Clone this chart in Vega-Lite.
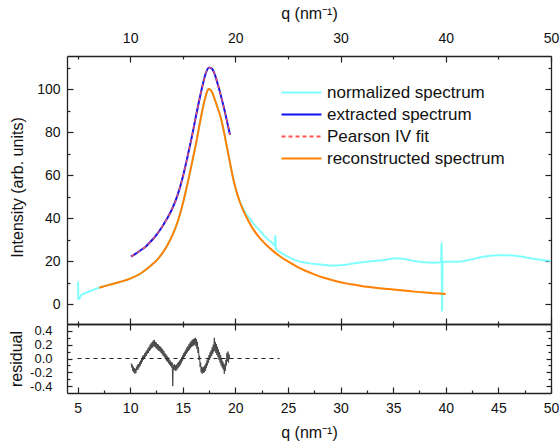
{
  "$schema": "https://vega.github.io/schema/vega-lite/v6.json",
  "width": 484,
  "height": 337,
  "autosize": {"type": "none"},
  "padding": {"left": 67, "top": 56, "right": 9, "bottom": 54},
  "config": {
    "view": {"stroke": null},
    "font": "Liberation Sans",
    "axis": {
      "grid": false,
      "domainColor": "#222222",
      "domainWidth": 1.3,
      "tickColor": "#222222",
      "tickWidth": 1.2,
      "labelFont": "Liberation Sans",
      "labelFontSize": 14,
      "labelColor": "#111111",
      "titleFont": "Liberation Sans",
      "titleFontSize": 16,
      "titleFontWeight": "normal",
      "titleColor": "#111111",
      "labelFlush": false,
      "labelOverlap": false,
      "labelBound": false
    }
  },
  "datasets": {
    "spectra": [
      {"s": "normalized spectrum", "q": 5.05, "I": 10.3},
      {"s": "normalized spectrum", "q": 5.08, "I": 2.3},
      {"s": "normalized spectrum", "q": 5.4, "I": 4.3},
      {"s": "normalized spectrum", "q": 5.7, "I": 5.0},
      {"s": "normalized spectrum", "q": 6.3, "I": 6.2},
      {"s": "normalized spectrum", "q": 7.07, "I": 7.6},
      {"s": "normalized spectrum", "q": 8, "I": 8.9},
      {"s": "normalized spectrum", "q": 9, "I": 10.2},
      {"s": "normalized spectrum", "q": 10, "I": 11.8},
      {"s": "normalized spectrum", "q": 11, "I": 14.2},
      {"s": "normalized spectrum", "q": 12, "I": 18.0},
      {"s": "normalized spectrum", "q": 12.5, "I": 20.2},
      {"s": "normalized spectrum", "q": 13, "I": 23.2},
      {"s": "normalized spectrum", "q": 13.5, "I": 27.0},
      {"s": "normalized spectrum", "q": 14, "I": 31.8},
      {"s": "normalized spectrum", "q": 14.5, "I": 38.0},
      {"s": "normalized spectrum", "q": 15, "I": 46.5},
      {"s": "normalized spectrum", "q": 15.5, "I": 57.0},
      {"s": "normalized spectrum", "q": 16, "I": 68.5},
      {"s": "normalized spectrum", "q": 16.3, "I": 75.5},
      {"s": "normalized spectrum", "q": 16.6, "I": 83.5},
      {"s": "normalized spectrum", "q": 16.9, "I": 91.0},
      {"s": "normalized spectrum", "q": 17.2, "I": 97.0},
      {"s": "normalized spectrum", "q": 17.45, "I": 100.0},
      {"s": "normalized spectrum", "q": 17.7, "I": 99.2},
      {"s": "normalized spectrum", "q": 18.0, "I": 95.8},
      {"s": "normalized spectrum", "q": 18.3, "I": 91.5},
      {"s": "normalized spectrum", "q": 18.6, "I": 87.0},
      {"s": "normalized spectrum", "q": 18.9, "I": 80.5},
      {"s": "normalized spectrum", "q": 19.18, "I": 73.5},
      {"s": "normalized spectrum", "q": 19.5, "I": 65.5},
      {"s": "normalized spectrum", "q": 19.81, "I": 58.0},
      {"s": "normalized spectrum", "q": 20.1, "I": 52.5},
      {"s": "normalized spectrum", "q": 20.4, "I": 48.2},
      {"s": "normalized spectrum", "q": 20.76, "I": 44.3},
      {"s": "normalized spectrum", "q": 21.1, "I": 41.5},
      {"s": "normalized spectrum", "q": 21.4, "I": 39.5},
      {"s": "normalized spectrum", "q": 21.8, "I": 37.0},
      {"s": "normalized spectrum", "q": 22.35, "I": 34.0},
      {"s": "normalized spectrum", "q": 23.0, "I": 30.5},
      {"s": "normalized spectrum", "q": 23.6, "I": 28.0},
      {"s": "normalized spectrum", "q": 23.75, "I": 27.3},
      {"s": "normalized spectrum", "q": 23.8, "I": 31.6},
      {"s": "normalized spectrum", "q": 23.85, "I": 25.8},
      {"s": "normalized spectrum", "q": 24.3, "I": 24.0},
      {"s": "normalized spectrum", "q": 25.0, "I": 22.0},
      {"s": "normalized spectrum", "q": 25.5, "I": 20.8},
      {"s": "normalized spectrum", "q": 26.1, "I": 19.8},
      {"s": "normalized spectrum", "q": 27.1, "I": 18.9},
      {"s": "normalized spectrum", "q": 28.2, "I": 18.3},
      {"s": "normalized spectrum", "q": 29.3, "I": 17.9},
      {"s": "normalized spectrum", "q": 30.5, "I": 18.3},
      {"s": "normalized spectrum", "q": 31.5, "I": 19.1},
      {"s": "normalized spectrum", "q": 32.8, "I": 19.8},
      {"s": "normalized spectrum", "q": 34.0, "I": 20.4},
      {"s": "normalized spectrum", "q": 35.2, "I": 21.2},
      {"s": "normalized spectrum", "q": 36.0, "I": 21.0},
      {"s": "normalized spectrum", "q": 37.0, "I": 20.0},
      {"s": "normalized spectrum", "q": 38.0, "I": 19.4},
      {"s": "normalized spectrum", "q": 39.0, "I": 19.2},
      {"s": "normalized spectrum", "q": 39.55, "I": 19.5},
      {"s": "normalized spectrum", "q": 39.6, "I": 28.2},
      {"s": "normalized spectrum", "q": 39.65, "I": -3.1},
      {"s": "normalized spectrum", "q": 39.7, "I": 19.6},
      {"s": "normalized spectrum", "q": 40.5, "I": 19.6},
      {"s": "normalized spectrum", "q": 41.4, "I": 19.8},
      {"s": "normalized spectrum", "q": 42.3, "I": 20.6},
      {"s": "normalized spectrum", "q": 43.3, "I": 21.7},
      {"s": "normalized spectrum", "q": 44.2, "I": 22.4},
      {"s": "normalized spectrum", "q": 45.2, "I": 22.7},
      {"s": "normalized spectrum", "q": 46.2, "I": 22.6},
      {"s": "normalized spectrum", "q": 47.1, "I": 22.1},
      {"s": "normalized spectrum", "q": 48.0, "I": 21.3},
      {"s": "normalized spectrum", "q": 49.0, "I": 20.6},
      {"s": "normalized spectrum", "q": 50.0, "I": 20.0},

      {"s": "reconstructed spectrum", "q": 7.07, "I": 7.6},
      {"s": "reconstructed spectrum", "q": 8, "I": 8.9},
      {"s": "reconstructed spectrum", "q": 9, "I": 10.2},
      {"s": "reconstructed spectrum", "q": 10, "I": 11.8},
      {"s": "reconstructed spectrum", "q": 11, "I": 14.2},
      {"s": "reconstructed spectrum", "q": 12, "I": 18.0},
      {"s": "reconstructed spectrum", "q": 12.5, "I": 20.2},
      {"s": "reconstructed spectrum", "q": 13, "I": 23.2},
      {"s": "reconstructed spectrum", "q": 13.5, "I": 27.0},
      {"s": "reconstructed spectrum", "q": 14, "I": 31.8},
      {"s": "reconstructed spectrum", "q": 14.5, "I": 38.0},
      {"s": "reconstructed spectrum", "q": 15, "I": 46.5},
      {"s": "reconstructed spectrum", "q": 15.5, "I": 57.0},
      {"s": "reconstructed spectrum", "q": 16, "I": 68.5},
      {"s": "reconstructed spectrum", "q": 16.3, "I": 75.5},
      {"s": "reconstructed spectrum", "q": 16.6, "I": 83.5},
      {"s": "reconstructed spectrum", "q": 16.9, "I": 91.0},
      {"s": "reconstructed spectrum", "q": 17.2, "I": 97.0},
      {"s": "reconstructed spectrum", "q": 17.45, "I": 100.0},
      {"s": "reconstructed spectrum", "q": 17.7, "I": 99.2},
      {"s": "reconstructed spectrum", "q": 18.0, "I": 95.8},
      {"s": "reconstructed spectrum", "q": 18.3, "I": 91.5},
      {"s": "reconstructed spectrum", "q": 18.6, "I": 87.0},
      {"s": "reconstructed spectrum", "q": 18.9, "I": 80.5},
      {"s": "reconstructed spectrum", "q": 19.18, "I": 73.5},
      {"s": "reconstructed spectrum", "q": 19.5, "I": 65.5},
      {"s": "reconstructed spectrum", "q": 19.81, "I": 58.0},
      {"s": "reconstructed spectrum", "q": 20.1, "I": 52.5},
      {"s": "reconstructed spectrum", "q": 20.4, "I": 47.8},
      {"s": "reconstructed spectrum", "q": 20.76, "I": 43.4},
      {"s": "reconstructed spectrum", "q": 21.1, "I": 40.0},
      {"s": "reconstructed spectrum", "q": 21.4, "I": 37.2},
      {"s": "reconstructed spectrum", "q": 21.8, "I": 34.0},
      {"s": "reconstructed spectrum", "q": 22.35, "I": 30.5},
      {"s": "reconstructed spectrum", "q": 23.0, "I": 27.2},
      {"s": "reconstructed spectrum", "q": 23.6, "I": 24.6},
      {"s": "reconstructed spectrum", "q": 24.3, "I": 22.0},
      {"s": "reconstructed spectrum", "q": 25.0, "I": 19.8},
      {"s": "reconstructed spectrum", "q": 25.8, "I": 17.5},
      {"s": "reconstructed spectrum", "q": 26.6, "I": 15.6},
      {"s": "reconstructed spectrum", "q": 27.5, "I": 13.8},
      {"s": "reconstructed spectrum", "q": 28.5, "I": 12.1},
      {"s": "reconstructed spectrum", "q": 29.5, "I": 10.7},
      {"s": "reconstructed spectrum", "q": 30.5, "I": 9.6},
      {"s": "reconstructed spectrum", "q": 31.5, "I": 8.8},
      {"s": "reconstructed spectrum", "q": 32.5, "I": 8.0},
      {"s": "reconstructed spectrum", "q": 33.5, "I": 7.4},
      {"s": "reconstructed spectrum", "q": 35.0, "I": 6.7},
      {"s": "reconstructed spectrum", "q": 36.5, "I": 6.0},
      {"s": "reconstructed spectrum", "q": 38.0, "I": 5.3},
      {"s": "reconstructed spectrum", "q": 40.0, "I": 4.6},

      {"s": "extracted spectrum", "q": 10.08, "I": 22.0},
      {"s": "extracted spectrum", "q": 10.5, "I": 23.3},
      {"s": "extracted spectrum", "q": 11.0, "I": 25.0},
      {"s": "extracted spectrum", "q": 11.5, "I": 26.8},
      {"s": "extracted spectrum", "q": 12.0, "I": 29.3},
      {"s": "extracted spectrum", "q": 12.5, "I": 32.2},
      {"s": "extracted spectrum", "q": 13.0, "I": 35.6},
      {"s": "extracted spectrum", "q": 13.5, "I": 39.6},
      {"s": "extracted spectrum", "q": 14.0, "I": 44.3},
      {"s": "extracted spectrum", "q": 14.5, "I": 50.5},
      {"s": "extracted spectrum", "q": 15.0, "I": 59.0},
      {"s": "extracted spectrum", "q": 15.5, "I": 69.5},
      {"s": "extracted spectrum", "q": 16.0, "I": 81.0},
      {"s": "extracted spectrum", "q": 16.3, "I": 88.5},
      {"s": "extracted spectrum", "q": 16.6, "I": 95.5},
      {"s": "extracted spectrum", "q": 16.9, "I": 102.0},
      {"s": "extracted spectrum", "q": 17.2, "I": 107.5},
      {"s": "extracted spectrum", "q": 17.5, "I": 110.0},
      {"s": "extracted spectrum", "q": 17.8, "I": 109.3},
      {"s": "extracted spectrum", "q": 18.1, "I": 106.0},
      {"s": "extracted spectrum", "q": 18.4, "I": 101.0},
      {"s": "extracted spectrum", "q": 18.7, "I": 95.5},
      {"s": "extracted spectrum", "q": 19.0, "I": 89.5},
      {"s": "extracted spectrum", "q": 19.25, "I": 84.0},
      {"s": "extracted spectrum", "q": 19.49, "I": 78.7},

      {"s": "Pearson IV fit", "q": 10.08, "I": 22.0},
      {"s": "Pearson IV fit", "q": 10.5, "I": 23.3},
      {"s": "Pearson IV fit", "q": 11.0, "I": 25.0},
      {"s": "Pearson IV fit", "q": 11.5, "I": 26.8},
      {"s": "Pearson IV fit", "q": 12.0, "I": 29.3},
      {"s": "Pearson IV fit", "q": 12.5, "I": 32.2},
      {"s": "Pearson IV fit", "q": 13.0, "I": 35.6},
      {"s": "Pearson IV fit", "q": 13.5, "I": 39.6},
      {"s": "Pearson IV fit", "q": 14.0, "I": 44.3},
      {"s": "Pearson IV fit", "q": 14.5, "I": 50.5},
      {"s": "Pearson IV fit", "q": 15.0, "I": 59.0},
      {"s": "Pearson IV fit", "q": 15.5, "I": 69.5},
      {"s": "Pearson IV fit", "q": 16.0, "I": 81.0},
      {"s": "Pearson IV fit", "q": 16.3, "I": 88.5},
      {"s": "Pearson IV fit", "q": 16.6, "I": 95.5},
      {"s": "Pearson IV fit", "q": 16.9, "I": 102.0},
      {"s": "Pearson IV fit", "q": 17.2, "I": 107.5},
      {"s": "Pearson IV fit", "q": 17.5, "I": 110.0},
      {"s": "Pearson IV fit", "q": 17.8, "I": 109.3},
      {"s": "Pearson IV fit", "q": 18.1, "I": 106.0},
      {"s": "Pearson IV fit", "q": 18.4, "I": 101.0},
      {"s": "Pearson IV fit", "q": 18.7, "I": 95.5},
      {"s": "Pearson IV fit", "q": 19.0, "I": 89.5},
      {"s": "Pearson IV fit", "q": 19.25, "I": 84.0},
      {"s": "Pearson IV fit", "q": 19.49, "I": 78.7}
    ],
    "residual": [
      {"q": 10.10, "r": -0.07}, {"q": 10.15, "r": -0.13}, {"q": 10.20, "r": -0.09}, {"q": 10.25, "r": -0.18},
      {"q": 10.30, "r": -0.12}, {"q": 10.35, "r": -0.20}, {"q": 10.40, "r": -0.14}, {"q": 10.45, "r": -0.22},
      {"q": 10.50, "r": -0.15}, {"q": 10.55, "r": -0.21}, {"q": 10.60, "r": -0.12}, {"q": 10.65, "r": -0.17},
      {"q": 10.70, "r": -0.09}, {"q": 10.75, "r": -0.16}, {"q": 10.80, "r": -0.08}, {"q": 10.85, "r": -0.13},
      {"q": 10.90, "r": -0.05}, {"q": 10.95, "r": -0.11}, {"q": 11.00, "r": -0.03}, {"q": 11.05, "r": -0.08},
      {"q": 11.10, "r": 0.01}, {"q": 11.15, "r": -0.05}, {"q": 11.20, "r": 0.04}, {"q": 11.25, "r": -0.02},
      {"q": 11.30, "r": 0.05}, {"q": 11.35, "r": 0.00}, {"q": 11.40, "r": 0.08}, {"q": 11.45, "r": 0.02},
      {"q": 11.50, "r": 0.10}, {"q": 11.55, "r": 0.04}, {"q": 11.60, "r": 0.12}, {"q": 11.65, "r": 0.07},
      {"q": 11.70, "r": 0.15}, {"q": 11.75, "r": 0.08}, {"q": 11.80, "r": 0.17}, {"q": 11.85, "r": 0.11},
      {"q": 11.90, "r": 0.20}, {"q": 11.95, "r": 0.13}, {"q": 12.00, "r": 0.22}, {"q": 12.05, "r": 0.15},
      {"q": 12.10, "r": 0.24}, {"q": 12.15, "r": 0.16}, {"q": 12.20, "r": 0.26}, {"q": 12.25, "r": 0.18},
      {"q": 12.30, "r": 0.27}, {"q": 12.35, "r": 0.17}, {"q": 12.40, "r": 0.24}, {"q": 12.45, "r": 0.15},
      {"q": 12.50, "r": 0.23}, {"q": 12.55, "r": 0.14}, {"q": 12.60, "r": 0.21}, {"q": 12.65, "r": 0.12},
      {"q": 12.70, "r": 0.20}, {"q": 12.75, "r": 0.11}, {"q": 12.80, "r": 0.18}, {"q": 12.85, "r": 0.10},
      {"q": 12.90, "r": 0.17}, {"q": 12.95, "r": 0.08}, {"q": 13.00, "r": 0.15}, {"q": 13.05, "r": 0.06},
      {"q": 13.10, "r": 0.13}, {"q": 13.15, "r": 0.04}, {"q": 13.20, "r": 0.11}, {"q": 13.25, "r": 0.02},
      {"q": 13.30, "r": 0.08}, {"q": 13.35, "r": -0.01}, {"q": 13.40, "r": 0.06}, {"q": 13.45, "r": -0.03},
      {"q": 13.50, "r": 0.04}, {"q": 13.55, "r": -0.05}, {"q": 13.60, "r": 0.02}, {"q": 13.65, "r": -0.07},
      {"q": 13.70, "r": -0.01}, {"q": 13.75, "r": -0.09}, {"q": 13.80, "r": -0.03}, {"q": 13.85, "r": -0.11},
      {"q": 13.90, "r": -0.05}, {"q": 13.95, "r": -0.13}, {"q": 14.00, "r": -0.06}, {"q": 14.05, "r": -0.40},
      {"q": 14.10, "r": -0.10}, {"q": 14.15, "r": -0.16}, {"q": 14.20, "r": -0.08}, {"q": 14.25, "r": -0.17},
      {"q": 14.30, "r": -0.10}, {"q": 14.35, "r": -0.18}, {"q": 14.40, "r": -0.09}, {"q": 14.45, "r": -0.16},
      {"q": 14.50, "r": -0.07}, {"q": 14.55, "r": -0.14}, {"q": 14.60, "r": -0.05}, {"q": 14.65, "r": -0.12},
      {"q": 14.70, "r": -0.03}, {"q": 14.75, "r": -0.10}, {"q": 14.80, "r": -0.01}, {"q": 14.85, "r": -0.07},
      {"q": 14.90, "r": 0.02}, {"q": 14.95, "r": -0.04}, {"q": 15.00, "r": 0.05}, {"q": 15.05, "r": -0.01},
      {"q": 15.10, "r": 0.08}, {"q": 15.15, "r": 0.02}, {"q": 15.20, "r": 0.10}, {"q": 15.25, "r": 0.04},
      {"q": 15.30, "r": 0.13}, {"q": 15.35, "r": 0.07}, {"q": 15.40, "r": 0.16}, {"q": 15.45, "r": 0.09},
      {"q": 15.50, "r": 0.18}, {"q": 15.55, "r": 0.11}, {"q": 15.60, "r": 0.21}, {"q": 15.65, "r": 0.13},
      {"q": 15.70, "r": 0.23}, {"q": 15.75, "r": 0.15}, {"q": 15.80, "r": 0.25}, {"q": 15.85, "r": 0.17},
      {"q": 15.90, "r": 0.27}, {"q": 15.95, "r": 0.18}, {"q": 16.00, "r": 0.28}, {"q": 16.05, "r": 0.19},
      {"q": 16.10, "r": 0.29}, {"q": 16.15, "r": 0.20}, {"q": 16.20, "r": 0.30}, {"q": 16.25, "r": 0.18},
      {"q": 16.30, "r": 0.28}, {"q": 16.35, "r": 0.14}, {"q": 16.40, "r": 0.24}, {"q": 16.45, "r": 0.08},
      {"q": 16.50, "r": 0.16}, {"q": 16.55, "r": -0.02}, {"q": 16.60, "r": 0.04}, {"q": 16.65, "r": -0.12},
      {"q": 16.70, "r": -0.06}, {"q": 16.75, "r": -0.20}, {"q": 16.80, "r": -0.12}, {"q": 16.85, "r": -0.22},
      {"q": 16.90, "r": -0.13}, {"q": 16.95, "r": -0.21}, {"q": 17.00, "r": -0.12}, {"q": 17.05, "r": -0.20},
      {"q": 17.10, "r": -0.10}, {"q": 17.15, "r": -0.18}, {"q": 17.20, "r": -0.07}, {"q": 17.25, "r": -0.14},
      {"q": 17.30, "r": -0.03}, {"q": 17.35, "r": -0.10}, {"q": 17.40, "r": 0.01}, {"q": 17.45, "r": -0.06},
      {"q": 17.50, "r": 0.05}, {"q": 17.55, "r": -0.02}, {"q": 17.60, "r": 0.09}, {"q": 17.65, "r": 0.01},
      {"q": 17.70, "r": 0.12}, {"q": 17.75, "r": 0.04}, {"q": 17.80, "r": 0.16}, {"q": 17.85, "r": 0.07},
      {"q": 17.90, "r": 0.20}, {"q": 17.95, "r": 0.10}, {"q": 18.00, "r": 0.30}, {"q": 18.05, "r": 0.11},
      {"q": 18.10, "r": 0.24}, {"q": 18.15, "r": 0.08}, {"q": 18.20, "r": 0.21}, {"q": 18.25, "r": 0.05},
      {"q": 18.30, "r": 0.17}, {"q": 18.35, "r": 0.02}, {"q": 18.40, "r": 0.13}, {"q": 18.45, "r": -0.02},
      {"q": 18.50, "r": 0.09}, {"q": 18.55, "r": -0.06}, {"q": 18.60, "r": 0.05}, {"q": 18.65, "r": -0.10},
      {"q": 18.70, "r": 0.01}, {"q": 18.75, "r": -0.13}, {"q": 18.80, "r": -0.04}, {"q": 18.85, "r": -0.16},
      {"q": 18.90, "r": -0.07}, {"q": 18.95, "r": -0.22}, {"q": 19.00, "r": -0.09}, {"q": 19.05, "r": -0.18},
      {"q": 19.10, "r": -0.02}, {"q": 19.15, "r": -0.10}, {"q": 19.20, "r": 0.08}, {"q": 19.25, "r": -0.04},
      {"q": 19.30, "r": 0.10}, {"q": 19.35, "r": -0.06}, {"q": 19.40, "r": 0.06}, {"q": 19.45, "r": -0.01}
    ],
    "zero": [
      {"q": 5.0, "r": 0},
      {"q": 24.2, "r": 0}
    ]
  },
  "layer": [
    {
      "layer": [
        {
          "data": {"name": "spectra"},
          "transform": [{"filter": "datum.s === 'normalized spectrum'"}],
          "mark": {"type": "line", "strokeWidth": 2, "interpolate": "monotone"},
          "encoding": {
            "x": {
              "field": "q", "type": "quantitative",
              "scale": {"domain": [4, 50], "nice": false, "zero": false},
              "axis": {
                "orient": "top",
                "values": [5, 10, 15, 20, 25, 30, 35, 40, 45, 50],
                "labelExpr": "datum.value % 10 === 0 ? datum.label : ''",
                "tickSize": {"condition": {"test": "datum.value % 10 === 0", "value": -6}, "value": -3},
                "labelPadding": 17,
                "title": "q (nm⁻¹)",
                "titlePadding": 7
              }
            },
            "y": {
              "field": "I", "type": "quantitative",
              "scale": {"domain": [-9.3, 115.35], "range": [268, 0], "nice": false, "zero": false},
              "axis": {
                "orient": "left",
                "values": [0, 10, 20, 30, 40, 50, 60, 70, 80, 90, 100, 110],
                "labelExpr": "datum.value % 20 === 0 ? datum.label : ''",
                "tickSize": {"condition": {"test": "datum.value % 20 === 0", "value": -6}, "value": -3},
                "labelPadding": 13,
                "title": "Intensity (arb. units)",
                "titleX": -42,
                "titleY": 131
              }
            },
            "color": {
              "field": "s", "type": "nominal",
              "scale": {
                "domain": ["normalized spectrum", "extracted spectrum", "Pearson IV fit", "reconstructed spectrum"],
                "range": ["#80FFFF", "#1111EE", "#FF5555", "#FF8000"]
              },
              "legend": {
                "orient": "none", "legendX": 226, "legendY": 28, "title": null,
                "symbolType": "M-4,0H4", "symbolSize": 100, "symbolStrokeWidth": 2,
                "labelFontSize": 17, "labelFont": "Liberation Sans", "labelColor": "#111111",
                "labelOffset": 17, "labelLimit": 400, "rowPadding": 4, "padding": 0
              }
            },
            "strokeDash": {
              "field": "s", "type": "nominal",
              "scale": {
                "domain": ["normalized spectrum", "extracted spectrum", "Pearson IV fit", "reconstructed spectrum"],
                "range": [[1, 0], [1, 0], [4, 3], [1, 0]]
              },
              "legend": {
                "orient": "none", "legendX": 226, "legendY": 28, "title": null,
                "symbolType": "M-4,0H4", "symbolSize": 100, "symbolStrokeWidth": 2,
                "labelFontSize": 17, "labelFont": "Liberation Sans", "labelColor": "#111111",
                "labelOffset": 17, "labelLimit": 400, "rowPadding": 4, "padding": 0
              }
            }
          }
        },
        {
          "data": {"name": "spectra"},
          "transform": [{"filter": "datum.s === 'reconstructed spectrum'"}],
          "mark": {"type": "line", "strokeWidth": 2, "interpolate": "monotone", "color": "#FF8000"},
          "encoding": {
            "x": {
              "field": "q", "type": "quantitative",
              "scale": {"domain": [4, 50], "nice": false, "zero": false},
              "axis": {
                "orient": "bottom",
                "offset": -69,
                "values": [5, 10, 15, 20, 25, 30, 35, 40, 45, 50],
                "labels": false,
                "tickSize": {"condition": {"test": "datum.value % 10 === 0", "value": -6}, "value": -3},
                "title": null
              }
            },
            "y": {
              "field": "I", "type": "quantitative",
              "scale": {"domain": [-9.3, 115.35], "range": [268, 0], "nice": false, "zero": false},
              "axis": {
                "orient": "right",
                "values": [0, 10, 20, 30, 40, 50, 60, 70, 80, 90, 100, 110],
                "labels": false,
                "tickSize": {"condition": {"test": "datum.value % 20 === 0", "value": -6}, "value": -3},
                "title": null
              }
            }
          }
        },
        {
          "data": {"name": "spectra"},
          "transform": [{"filter": "datum.s === 'extracted spectrum'"}],
          "mark": {"type": "line", "strokeWidth": 2, "interpolate": "monotone", "color": "#1111EE"},
          "encoding": {
            "x": {"field": "q", "type": "quantitative", "scale": {"domain": [4, 50], "nice": false, "zero": false}, "axis": null},
            "y": {"field": "I", "type": "quantitative", "scale": {"domain": [-9.3, 115.35], "range": [268, 0], "nice": false, "zero": false}, "axis": null}
          }
        },
        {
          "data": {"name": "spectra"},
          "transform": [{"filter": "datum.s === 'Pearson IV fit'"}],
          "mark": {"type": "line", "strokeWidth": 1.2, "interpolate": "monotone", "color": "#FF5555", "strokeDash": [4, 3]},
          "encoding": {
            "x": {"field": "q", "type": "quantitative", "scale": {"domain": [4, 50], "nice": false, "zero": false}, "axis": null},
            "y": {"field": "I", "type": "quantitative", "scale": {"domain": [-9.3, 115.35], "range": [268, 0], "nice": false, "zero": false}, "axis": null}
          }
        }
      ],
      "resolve": {"axis": {"x": "independent", "y": "independent"}}
    },
    {
      "layer": [
        {
          "data": {"name": "residual"},
          "mark": {"type": "line", "strokeWidth": 1, "color": "#484848"},
          "encoding": {
            "x": {
              "field": "q", "type": "quantitative",
              "scale": {"domain": [4, 50], "nice": false, "zero": false},
              "axis": {
                "orient": "bottom",
                "values": [5, 7.5, 10, 12.5, 15, 17.5, 20, 22.5, 25, 27.5, 30, 32.5, 35, 37.5, 40, 42.5, 45, 47.5, 50],
                "labelExpr": "datum.value % 5 === 0 ? datum.label : ''",
                "tickSize": {"condition": {"test": "datum.value % 5 === 0", "value": -6}, "value": -3},
                "labelPadding": 14,
                "title": "q (nm⁻¹)",
                "titlePadding": 6
              }
            },
            "y": {
              "field": "r", "type": "quantitative",
              "scale": {"domain": [-0.5, 0.5], "range": [337, 268], "nice": false, "zero": false},
              "axis": {
                "orient": "left",
                "values": [-0.4, -0.3, -0.2, -0.1, 0, 0.1, 0.2, 0.3, 0.4],
                "labelExpr": "abs(round(datum.value * 10)) % 2 === 0 ? replace(format(datum.value, '.1f'), '−', '-') : ''",
                "tickSize": {"condition": {"test": "abs(round(datum.value * 10)) % 2 === 0", "value": -5}, "value": -3},
                "labelPadding": 20,
                "labelFontSize": 13,
                "title": "residual",
                "titleX": -43,
                "titleY": 302.5
              }
            }
          }
        },
        {
          "data": {"name": "zero"},
          "mark": {"type": "line", "strokeWidth": 1, "color": "#222222", "strokeDash": [4, 4]},
          "encoding": {
            "x": {
              "field": "q", "type": "quantitative",
              "scale": {"domain": [4, 50], "nice": false, "zero": false},
              "axis": {
                "orient": "top",
                "offset": -268,
                "values": [5, 10, 15, 20, 25, 30, 35, 40, 45, 50],
                "labels": false,
                "tickSize": {"condition": {"test": "datum.value % 10 === 0", "value": -6}, "value": -3},
                "title": null
              }
            },
            "y": {
              "field": "r", "type": "quantitative",
              "scale": {"domain": [-0.5, 0.5], "range": [337, 268], "nice": false, "zero": false},
              "axis": {
                "orient": "right",
                "values": [-0.4, -0.3, -0.2, -0.1, 0, 0.1, 0.2, 0.3, 0.4],
                "labels": false,
                "tickSize": {"condition": {"test": "abs(round(datum.value * 10)) % 2 === 0", "value": -5}, "value": -3},
                "title": null
              }
            }
          }
        }
      ],
      "resolve": {"axis": {"x": "independent", "y": "independent"}}
    }
  ],
  "resolve": {"scale": {"y": "independent"}, "axis": {"x": "independent", "y": "independent"}}
}
